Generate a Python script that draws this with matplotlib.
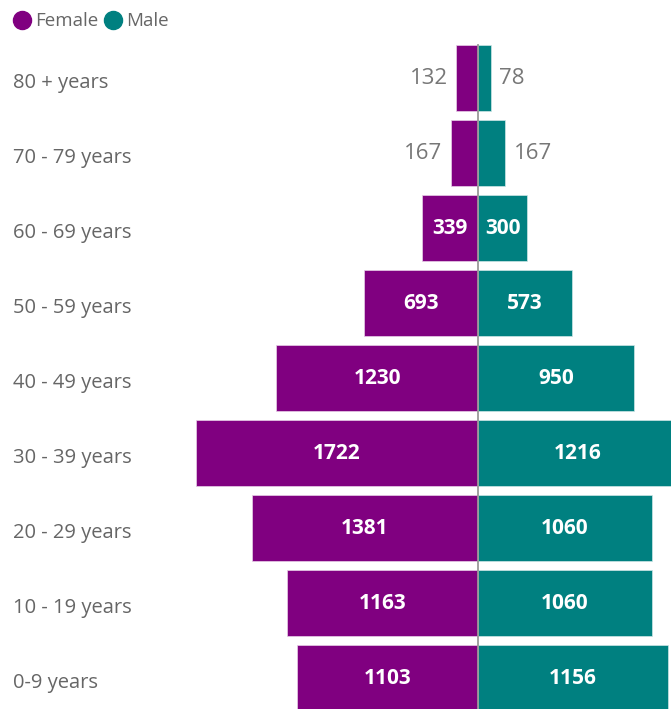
import matplotlib
matplotlib.use("Agg")
import matplotlib.pyplot as plt
from matplotlib.lines import Line2D
from matplotlib.transforms import blended_transform_factory

plt.rcParams['font.family'] = ['Open Sans', 'DejaVu Sans']

grupos = ["0-9 years", "10 - 19 years", "20 - 29 years", "30 - 39 years", "40 - 49 years",
          "50 - 59 years", "60 - 69 years", "70 - 79 years", "80 + years"]
mujeres = [1103, 1163, 1381, 1722, 1230, 693, 339, 167, 132]
hombres = [1156, 1060, 1060, 1216, 950, 573, 300, 167, 78]
leyenda = ["Female", "Male"]

morado = "#800080"
verde = "#008080"
gris = "#777777"

W, H = 671, 709
fig = plt.figure(figsize=(W / 100, H / 100), dpi=100)
ax = fig.add_axes([180 / W, 0, 1 - 180 / W, (H - 40) / H])

y = list(range(len(grupos)))
alto = 0.89
ax.barh(y, [-m for m in mujeres], height=alto, color=morado, edgecolor="#e8d0e8", linewidth=0.5)
ax.barh(y, hombres, height=alto, color=verde, edgecolor="#cfe6e6", linewidth=0.5)
ax.plot([0, 0], [-0.413, len(grupos) - 1 + alto / 2], color="#999999", lw=1.3, zorder=3)

ax.set_xlim(-1817, 1177)
ax.set_ylim(-0.413, 8.507)
ax.axis("off")

limite = 250
for i in y:
    m = mujeres[i]
    h = hombres[i]
    if m >= limite:
        ax.text(-m / 2, i, str(m), ha="center", va="center", color="white",
                fontsize=15, fontweight="bold", zorder=4)
    else:
        ax.text(-m - 50, i, str(m), ha="right", va="center", color=gris, fontsize=16)
    if h >= limite:
        ax.text(h / 2, i, str(h), ha="center", va="center", color="white",
                fontsize=15, fontweight="bold", zorder=4)
    else:
        ax.text(h + 50, i, str(h), ha="left", va="center", color=gris, fontsize=16)

trans = blended_transform_factory(fig.transFigure, ax.transData)
for i, g in enumerate(grupos):
    fig.text(13 / W, i - 0.06, g, transform=trans, ha="left", va="center",
             color="#666666", fontsize=14.5)

# leyenda arriba a la izquierda
xs_circ = [22, 113]
for nombre, xc, col in zip(leyenda, xs_circ, [morado, verde]):
    fig.add_artist(Line2D([xc / W], [1 - 20 / H], marker="o", linestyle="", markersize=13,
                          color=col, transform=fig.transFigure))
    fig.text((xc + 13) / W, 1 - 21 / H, nombre, ha="left", va="center",
             color="#666666", fontsize=13.5)

fig.savefig("out.png", dpi=100)
